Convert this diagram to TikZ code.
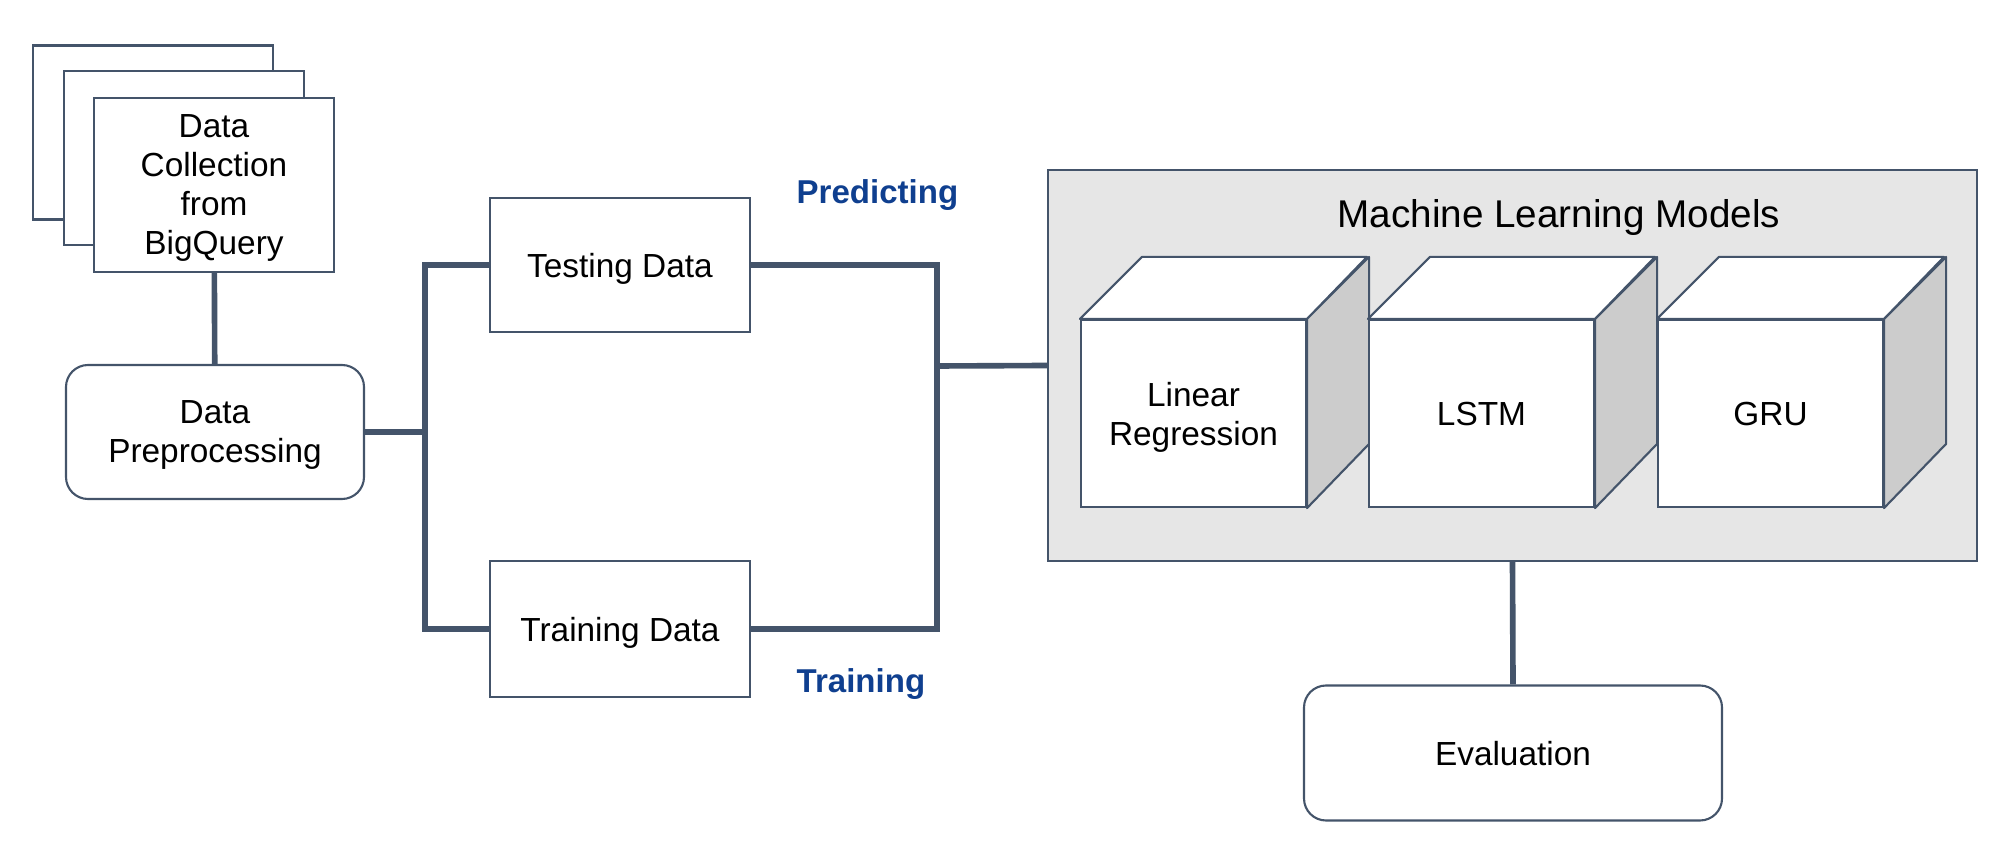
\documentclass[tikz,border=0pt]{standalone}
\usepackage{fontspec}
\setmainfont{Liberation Sans}
\usepackage{tikz}
\usetikzlibrary{positioning}

\definecolor{edgeblue}{HTML}{44546A}
\definecolor{lblblue}{HTML}{0F3F8F}
\definecolor{panelgray}{HTML}{E6E6E6}
\definecolor{sidegray}{HTML}{CCCCCC}

\tikzset{
    box/.style={draw=edgeblue, line width=0.6pt, fill=white, align=center, text depth=0pt,
        font=\fontsize{9.5pt}{11.1pt}\selectfont},
    rbox/.style={box, rounded corners=0.22cm},
    link/.style={draw=edgeblue, line width=1.6pt},
    lbl/.style={text=lblblue, font=\fontsize{9.4pt}{11pt}\selectfont\bfseries, anchor=west, inner sep=0pt},
}

\begin{document}
\begin{tikzpicture}
\useasboundingbox (0,0) rectangle (20,8.63);

% data collection (stacked sheets)
\node[box, minimum width=2.40cm, minimum height=1.74cm] (sheet1) at (1.53,7.305) {};
\node[box, minimum width=2.40cm, minimum height=1.74cm] (sheet2) at (1.84,7.05) {};
\node[box, minimum width=2.40cm, minimum height=1.74cm] (collect) at (2.14,6.78)
    {Data\\Collection\\from\\BigQuery};

\node[rbox, minimum width=2.98cm, minimum height=1.34cm] (prep) at (2.15,4.31)
    {Data\\Preprocessing};

\node[box, minimum width=2.60cm, minimum height=1.34cm] (test) at (6.20,5.98) {Testing Data};
\node[box, minimum width=2.60cm, minimum height=1.36cm] (train) at (6.20,2.34) {Training Data};

\node[lbl] (predict) at (7.96,6.68) {Predicting};
\node[lbl] (training) at (7.96,1.79) {Training};

% models panel
\node[draw=edgeblue, line width=0.6pt, fill=panelgray, minimum width=9.29cm,
    minimum height=3.91cm] (models) at (15.125,4.975) {};
\node[font=\fontsize{11pt}{13pt}\selectfont] (title) at (15.59,6.45) {Machine Learning Models};

\foreach \x/\name/\txt in {11.935/linreg/{Linear\\Regression}, 14.815/lstm/LSTM, 17.705/gru/GRU}{
    \node[box, minimum width=2.25cm, minimum height=1.87cm] (\name) at (\x,4.495) {\txt};
    \filldraw[draw=edgeblue, line width=0.6pt, fill=white, line join=round]
        (\name.north west) -- ++(0.62,0.62) -- ++(2.25,0) -- (\name.north east) -- cycle;
    \filldraw[draw=edgeblue, line width=0.6pt, fill=sidegray, line join=round]
        (\name.north east) -- ++(0.62,0.62) -- ++(0,-1.87) -- (\name.south east) -- cycle;
}

\node[rbox, minimum width=4.18cm, minimum height=1.35cm] (eval) at (15.13,1.10) {Evaluation};

% connectors
\coordinate (split) at (4.25,4.31);
\coordinate (join) at (9.37,4.97);
\draw[link] (collect) -- (prep);
\draw[link] (prep) -- (split);
\draw[link] (test.west) -| (split) |- (train.west);
\draw[link] (test.east) -| (join) |- (train.east);
\draw[link] (join) -- (models.west);
\draw[link] (models.south) -- (eval.north);
\end{tikzpicture}
\end{document}
